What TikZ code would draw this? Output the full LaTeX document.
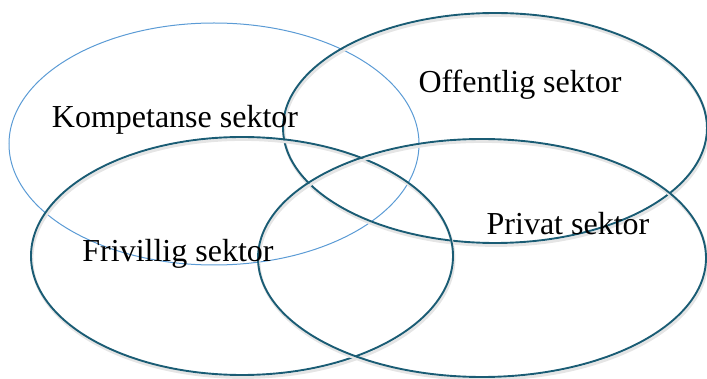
\documentclass[tikz,border=0pt]{standalone}
\usepackage{fontspec}
\setmainfont{Liberation Serif}
\usetikzlibrary{shapes.geometric}
\definecolor{sectorblue}{HTML}{5B9BD5}
\definecolor{sectorteal}{HTML}{1A5C74}
\tikzset{
    raw sector/.style={ellipse, inner sep=0pt, draw},
    sector light/.style={raw sector, sectorblue, line width=1pt},
    sector dark/.style={raw sector, sectorteal, line width=1.9pt,
        preaction={draw=black!10, line width=2.8pt, transform canvas={shift={(1pt,-2.5pt)}}}},
    sector text/.style={font=\fontsize{32}{38}\selectfont, anchor=base, inner sep=0pt}
}

\begin{document}
\begin{tikzpicture}[x=1pt, y=-1pt]
	\useasboundingbox (0,0) rectangle (707,379);
	% the four sectors
	\node[sector light, minimum width=410pt, minimum height=242pt] (komp) at (214,144) {};
	\node[sector dark, minimum width=424pt, minimum height=230pt] (off) at (495,128) {};
	\node[sector dark, minimum width=422pt, minimum height=238pt] (friv) at (242,256) {};
	\node[sector dark, minimum width=448pt, minimum height=238pt] (priv) at (482,258) {};
	% names
	\node[sector text] (komp-txt) at (175,128) {Kompetanse sektor};
	\node[sector text] (off-txt) at (520,93) {Offentlig sektor};
	\node[sector text] (friv-txt) at (178,262) {Frivillig sektor};
	\node[sector text] (priv-txt) at (568,235) {Privat sektor};
\end{tikzpicture}
\end{document}
